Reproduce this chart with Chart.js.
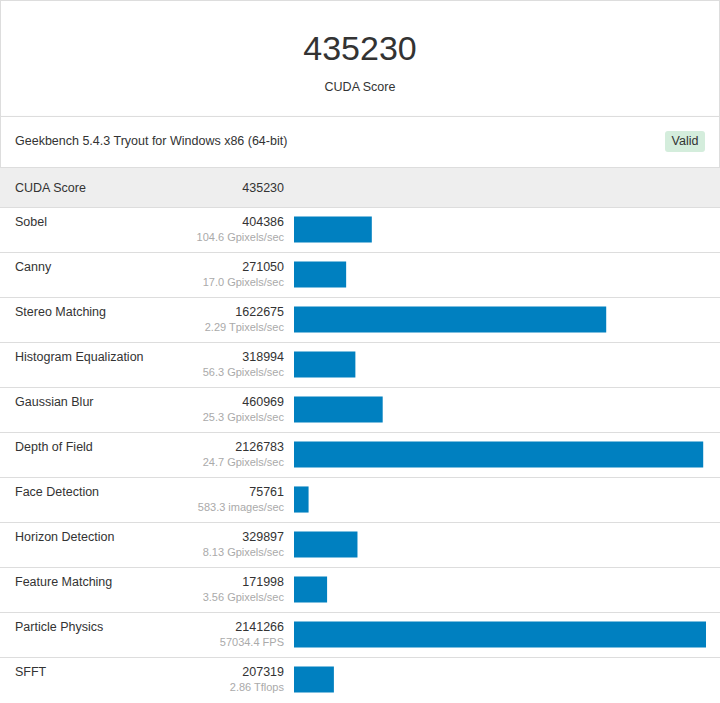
<!DOCTYPE html><html><head><meta charset="utf-8">
<script src="https://cdn.jsdelivr.net/npm/chart.js@4"></script>
<style>
body{margin:0;width:720px;height:703px;font-family:"Liberation Sans",Arial,sans-serif;color:#333;background:#fff;position:relative;overflow:hidden}
.box{position:absolute;left:0;width:718px;border:1px solid #ddd;background:#fff}
#score{position:absolute;top:28px;width:100%;text-align:center;font-size:34px;color:#333}
#sl{position:absolute;top:79px;width:100%;text-align:center;font-size:12.5px}
#gb{position:absolute;left:15px;top:134px;font-size:12.5px}
#valid{position:absolute;left:665px;top:131px;width:40px;height:21px;line-height:21px;background:#d4eddc;border-radius:3px;text-align:center;font-size:12.5px}
.row{position:absolute;left:0;width:720px;height:45px;border-top:1px solid #ddd;font-size:12.5px}
.n{position:absolute;left:15px;top:7px}
.v{position:absolute;right:436px;top:7px;text-align:right}
.u{position:absolute;right:436px;top:23px;text-align:right;color:#aaa;font-size:11px}
#wrap{position:absolute;left:294px;top:207px;width:412px;height:495px}
</style></head><body>
<div class="box" style="top:0;height:115px"><div id="score">435230</div><div id="sl">CUDA Score</div></div>
<div class="box" style="top:116px;height:50px;box-shadow:0 1px 2px rgba(0,0,0,.15)"></div>
<div id="gb">Geekbench 5.4.3 Tryout for Windows x86 (64-bit)</div><div id="valid">Valid</div>
<div class="row" style="top:167px;height:39px;background:#eee;border-bottom:1px solid #ccc"><span class="n" style="top:13px">CUDA Score</span><span class="v" style="top:13px">435230</span></div>
<div id="rows"></div>
<div id="wrap"><canvas id="c"></canvas></div>
<script>
const categories=["Sobel","Canny","Stereo Matching","Histogram Equalization","Gaussian Blur","Depth of Field","Face Detection","Horizon Detection","Feature Matching","Particle Physics","SFFT"];
const scores=[404386,271050,1622675,318994,460969,2126783,75761,329897,171998,2141266,207319];
const units=["104.6 Gpixels/sec","17.0 Gpixels/sec","2.29 Tpixels/sec","56.3 Gpixels/sec","25.3 Gpixels/sec","24.7 Gpixels/sec","583.3 images/sec","8.13 Gpixels/sec","3.56 Gpixels/sec","57034.4 FPS","2.86 Tflops"];
const rows=document.getElementById('rows');
categories.forEach((c,i)=>{const d=document.createElement('div');d.className='row';d.style.top=(207+i*45)+'px';
d.innerHTML=`<span class="n">${c}</span><span class="v">${scores[i]}</span><span class="u">${units[i]}</span>`;rows.appendChild(d);});
new Chart(document.getElementById('c'),{type:'bar',data:{labels:categories,datasets:[{data:scores,backgroundColor:'#0080c0',barPercentage:0.58,categoryPercentage:1}]},
options:{indexAxis:'y',responsive:true,maintainAspectRatio:false,animation:false,layout:{padding:0},
plugins:{legend:{display:false},tooltip:{enabled:false}},
scales:{x:{display:false,min:0,max:2141266},y:{display:false}}}});
</script></body></html>
